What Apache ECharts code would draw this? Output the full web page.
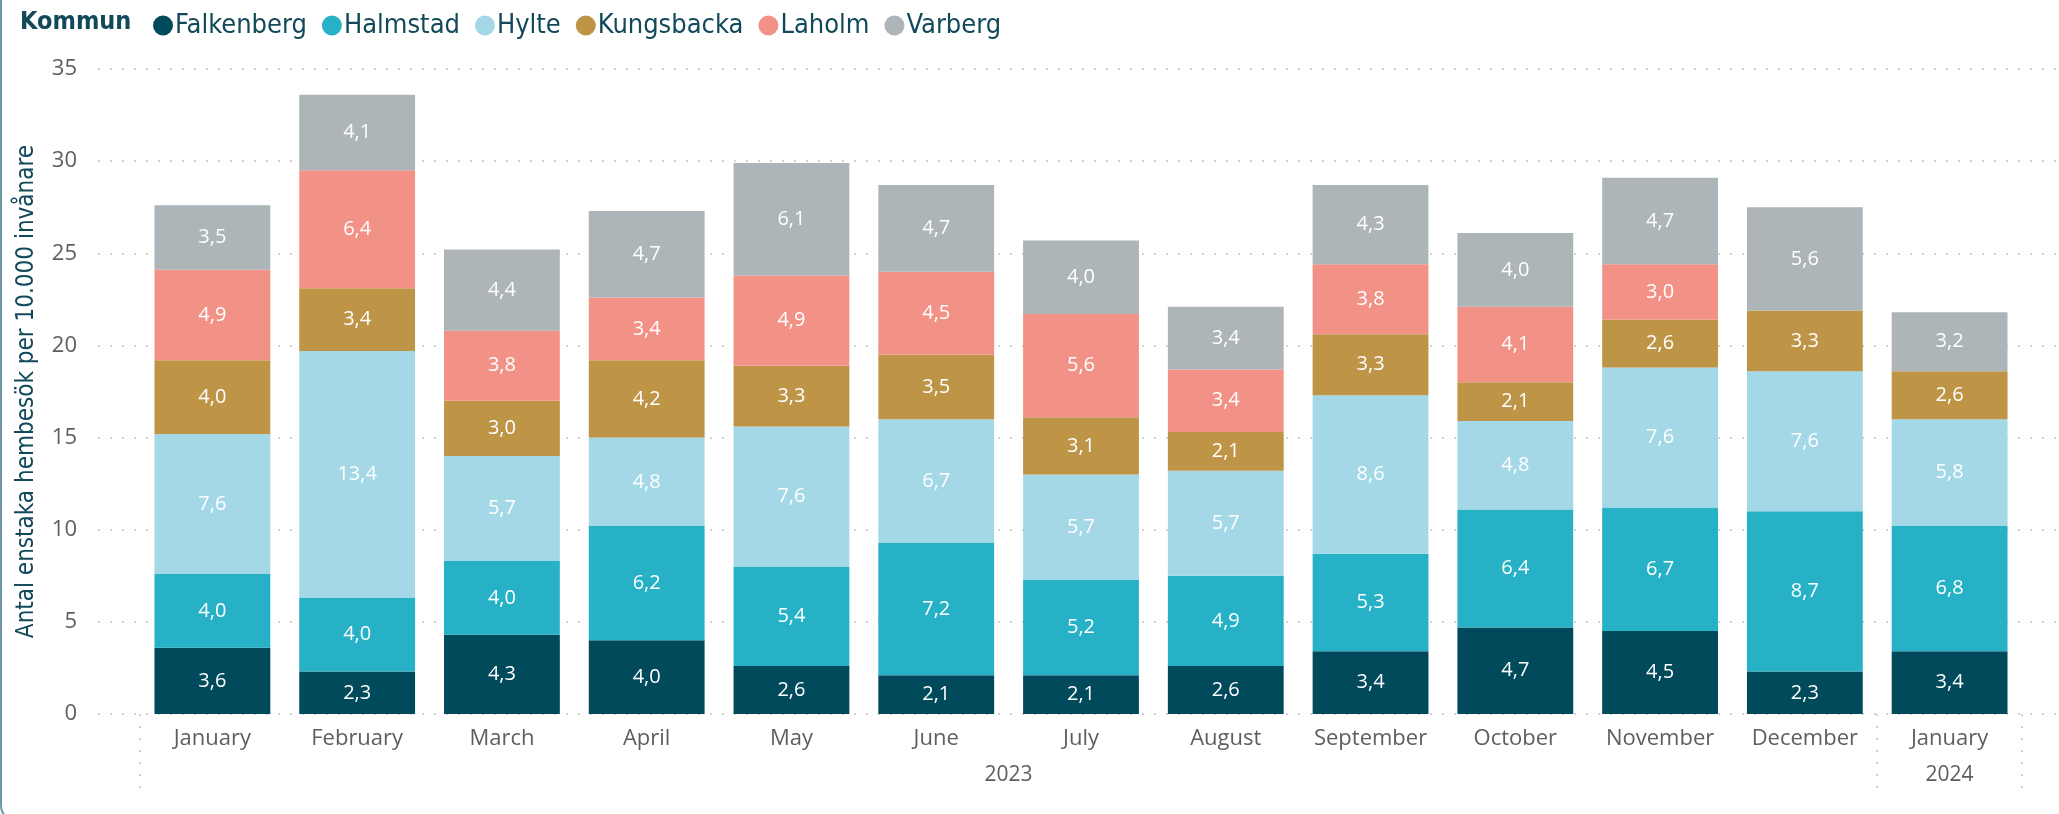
<!doctype html>
<html lang="sv">
<head>
	<meta charset="utf-8" />
	<title>Hembesök per kommun</title>
	<script src="https://cdn.jsdelivr.net/npm/echarts@6/dist/echarts.min.js"></script>
	<style>
		html, body { margin: 0; padding: 0; background: #fff; }
		#main { width: 2059px; height: 814px; }
	</style>
</head>
<body>
	<div id="main"></div>
	<script>
		// data
		var months = ['January', 'February', 'March', 'April', 'May', 'June', 'July',
			'August', 'September', 'October', 'November', 'December', 'January'];
		var years = ['2023', '2024'];
		var monthsPerYear = [12, 1];

		var falkenberg = [3.6, 2.3, 4.3, 4.0, 2.6, 2.1, 2.1, 2.6, 3.4, 4.7, 4.5, 2.3, 3.4];
		var halmstad   = [4.0, 4.0, 4.0, 6.2, 5.4, 7.2, 5.2, 4.9, 5.3, 6.4, 6.7, 8.7, 6.8];
		var hylte      = [7.6, 13.4, 5.7, 4.8, 7.6, 6.7, 5.7, 5.7, 8.6, 4.8, 7.6, 7.6, 5.8];
		var kungsbacka = [4.0, 3.4, 3.0, 4.2, 3.3, 3.5, 3.1, 2.1, 3.3, 2.1, 2.6, 3.3, 2.6];
		var laholm     = [4.9, 6.4, 3.8, 3.4, 4.9, 4.5, 5.6, 3.4, 3.8, 4.1, 3.0, null, null];
		var varberg    = [3.5, 4.1, 4.4, 4.7, 6.1, 4.7, 4.0, 3.4, 4.3, 4.0, 4.7, 5.6, 3.2];

		var kommuner = [
			{name: 'Falkenberg', data: falkenberg, color: '#004A5C'},
			{name: 'Halmstad', data: halmstad, color: '#27B1C6'},
			{name: 'Hylte', data: hylte, color: '#A4D8E6'},
			{name: 'Kungsbacka', data: kungsbacka, color: '#BE9447'},
			{name: 'Laholm', data: laholm, color: '#F29286'},
			{name: 'Varberg', data: varberg, color: '#ADB5B8'}
		];

		var teal = '#12495A';
		var grey = '#605E5C';
		var condensed = '"DejaVu Sans Condensed", "DejaVu Sans", sans-serif';
		var sans = '"Open Sans", "Noto Sans", sans-serif';
		var dots = {color: '#D2D0CE', width: 2, type: [2, 10]};

		// year labels sit in the middle of their months, separators between years
		var yearCenters = [], yearBounds = [0], start = 0;
		monthsPerYear.forEach(function (n) {
			yearCenters.push(start + n / 2);
			start += n;
			yearBounds.push(start);
		});

		var chart = echarts.init(document.getElementById('main'));

		var series = kommuner.map(function (k) {
			return {
				name: k.name,
				type: 'bar',
				stack: 'total',
				xAxisIndex: 0,
				yAxisIndex: 0,
				barCategoryGap: '20%',
				itemStyle: {color: k.color},
				label: {
					show: true,
					position: 'inside',
					color: '#fff',
					fontFamily: sans,
					fontSize: 20,
					formatter: function (p) {
						return p.value == null ? '' : p.value.toFixed(1).replace('.', ',');
					}
				},
				data: k.data
			};
		});

		var option = {
			animation: false,
			title: {
				text: 'Kommun',
				left: 15,
				top: 5,
				textStyle: {color: teal, fontFamily: condensed, fontWeight: 'bold', fontSize: 25}
			},
			legend: {
				left: 148,
				top: 7,
				icon: 'circle',
				itemWidth: 20,
				itemHeight: 20,
				itemGap: 15,
				textStyle: {color: teal, fontFamily: condensed, fontSize: 27, padding: [0, 0, 0, -3]},
				data: kommuner.map(function (k) { return k.name; })
			},
			grid: [
				{left: 140, right: 37, top: 69, bottom: 100},
				{left: 98, right: 0, top: 69, bottom: 100}
			],
			xAxis: [
				{
					type: 'category',
					gridIndex: 0,
					data: months,
					axisLine: {show: false},
					axisTick: {show: false},
					axisLabel: {color: grey, fontFamily: sans, fontSize: 22, margin: 14, interval: 0, hideOverlap: false}
				},
				{
					type: 'value',
					gridIndex: 0,
					min: 0,
					max: months.length,
					position: 'bottom',
					axisLine: {show: false},
					splitLine: {show: false},
					axisTick: {show: true, customValues: yearBounds, length: 78, lineStyle: dots},
					axisLabel: {
						color: grey, fontFamily: sans, fontSize: 21, margin: 51,
						customValues: yearCenters,
						formatter: function (v) {
							return years[yearCenters.indexOf(v)] || '';
						}
					}
				},
				{type: 'value', gridIndex: 1, show: false}
			],
			yAxis: [
				{type: 'value', gridIndex: 0, min: 0, max: 35, interval: 5, show: false},
				{
					type: 'value',
					gridIndex: 1,
					min: 0,
					max: 35,
					interval: 5,
					name: 'Antal enstaka hembesök per 10.000 invånare',
					nameLocation: 'middle',
					nameGap: 59,
					nameTextStyle: {color: teal, fontFamily: condensed, fontSize: 24},
					axisLine: {show: false},
					axisTick: {show: false},
					axisLabel: {color: grey, fontFamily: sans, fontSize: 22, margin: 21},
					splitLine: {show: true, lineStyle: dots}
				}
			],
			graphic: [{
				type: 'rect',
				silent: true,
				shape: {x: 1, y: -30, width: 2200, height: 850, r: 14},
				style: {fill: 'none', stroke: '#6E98A4', lineWidth: 2}
			}],
			series: series
		};
		chart.setOption(option);
	</script>
</body>
</html>
